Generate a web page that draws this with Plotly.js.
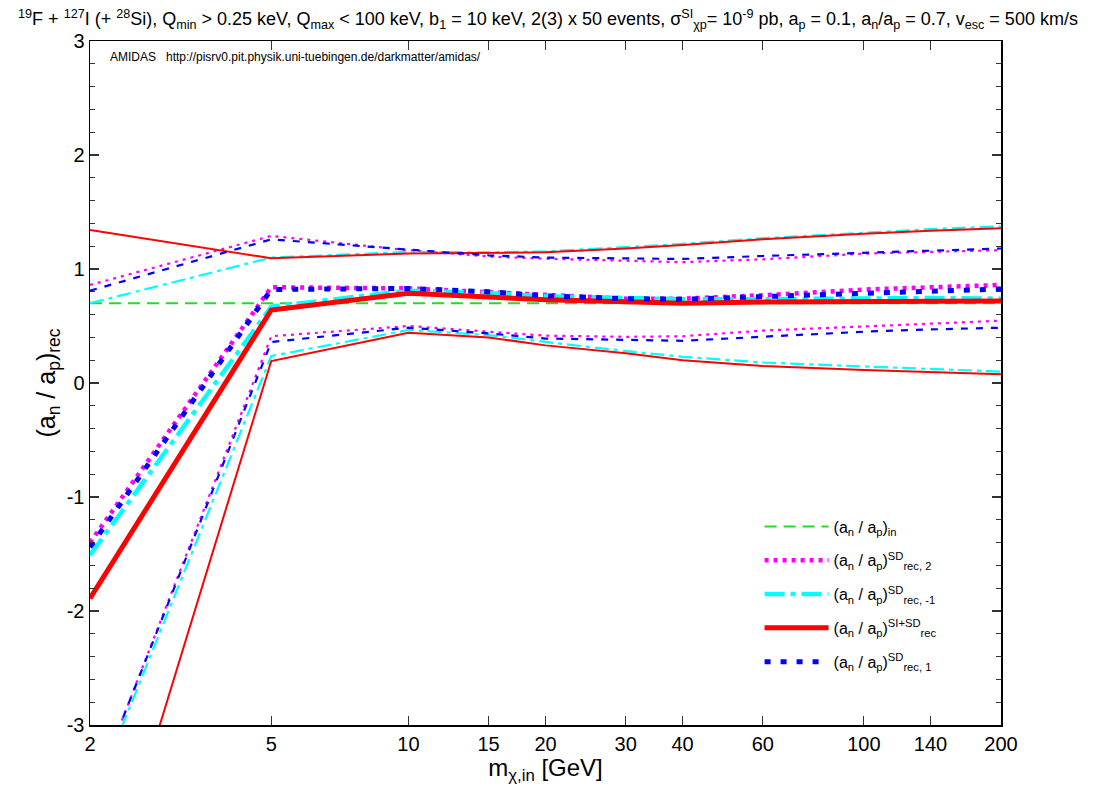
<!DOCTYPE html>
<html>
<head>
<meta charset="utf-8">
<script src="https://cdn.plot.ly/plotly-3.0.1.min.js"></script>
<style>html,body{margin:0;padding:0;background:#fff;}#chart{width:1096px;height:785px;}</style>
</head>
<body>
<div id="chart"></div>
<script>
// WIMP masses [GeV]
const masses = [2, 5, 10, 15, 20, 30, 40, 60, 100, 140, 200];
const tickLabels = ["2", "5", "10", "15", "20", "30", "40", "60", "100", "140", "200"];
const yTickVals = [-3, -2, -1, 0, 1, 2, 3];
const yTickLabels = ["-3", "-2", "-1", "0", "1", "2", "3"];

// input value
const anapIn = [0.7, 0.7, 0.7, 0.7, 0.7, 0.7, 0.7, 0.7, 0.7, 0.7, 0.7];

// SD, n = 2
const sd2Mid = [-1.40, 0.84, 0.83, 0.80, 0.77, 0.74, 0.74, 0.77, 0.82, 0.84, 0.86];
const sd2Up  = [0.86, 1.29, 1.165, 1.11, 1.09, 1.07, 1.06, 1.085, 1.135, 1.15, 1.165];
const sd2Lo  = [-3.68, 0.41, 0.50, 0.45, 0.415, 0.405, 0.41, 0.46, 0.50, 0.52, 0.547];

// SD, n = -1
const sdm1Mid = [-1.51, 0.67, 0.81, 0.79, 0.76, 0.74, 0.735, 0.735, 0.745, 0.745, 0.74];
const sdm1Up  = [0.70, 1.10, 1.15, 1.146, 1.155, 1.19, 1.22, 1.27, 1.32, 1.35, 1.375];
const sdm1Lo  = [-3.71, 0.237, 0.465, 0.42, 0.36, 0.28, 0.23, 0.18, 0.145, 0.12, 0.10];

// SI+SD
const sisdMid = [-1.89, 0.64, 0.787, 0.757, 0.73, 0.713, 0.70, 0.71, 0.715, 0.715, 0.72];
const sisdUp  = [1.342, 1.094, 1.135, 1.138, 1.146, 1.18, 1.21, 1.26, 1.31, 1.336, 1.357];
const sisdLo  = [-5.0, 0.193, 0.44, 0.40, 0.33, 0.26, 0.20, 0.15, 0.114, 0.095, 0.076];

// SD, n = 1
const sd1Mid = [-1.44, 0.82, 0.83, 0.80, 0.765, 0.74, 0.735, 0.757, 0.795, 0.81, 0.825];
const sd1Up  = [0.81, 1.26, 1.17, 1.12, 1.10, 1.09, 1.088, 1.114, 1.143, 1.16, 1.18];
const sd1Lo  = [-3.67, 0.36, 0.485, 0.435, 0.39, 0.377, 0.37, 0.406, 0.45, 0.47, 0.485];

const legendNames = [
  "(a<sub>n</sub> / a<sub>p</sub>)<sub>in</sub>",
  "(a<sub>n</sub> / a<sub>p</sub>)<sup>SD</sup><sub>rec, 2</sub>",
  "(a<sub>n</sub> / a<sub>p</sub>)<sup>SD</sup><sub>rec, -1</sub>",
  "(a<sub>n</sub> / a<sub>p</sub>)<sup>SI+SD</sup><sub>rec</sub>",
  "(a<sub>n</sub> / a<sub>p</sub>)<sup>SD</sup><sub>rec, 1</sub>"
];

function tr(y, color, width, dash, name, show, group) {
  return {
    x: masses, y: y, type: "scatter", mode: "lines",
    line: {color: color, width: width, dash: dash},
    name: name || "", showlegend: !!show, hoverinfo: "skip",
    legendgroup: group || undefined
  };
}

const data = [
  tr(anapIn, "#22dd22", 2, "12px,7px", legendNames[0], true, "g0"),
  tr(sd2Mid, "#ff00ff", 4.5, "4px,5px", legendNames[1], true, "g1"),
  tr(sd2Up, "#ff00ff", 2.2, "3px,5px"),
  tr(sd2Lo, "#ff00ff", 2.2, "3px,5px"),
  tr(sdm1Mid, "#00ffff", 4.5, "20px,6px,5px,6px", legendNames[2], true, "g2"),
  tr(sdm1Up, "#00ffff", 2.2, "14px,5px,4px,5px"),
  tr(sdm1Lo, "#00ffff", 2.2, "14px,5px,4px,5px"),
  tr(sisdMid, "#ff0000", 5, "solid", legendNames[3], true, "g3"),
  tr(sisdUp, "#ff0000", 2, "solid"),
  tr(sisdLo, "#ff0000", 2, "solid"),
  tr(sd1Mid, "#0000ff", 5, "6px,10px", legendNames[4], true, "g4"),
  tr(sd1Up, "#0000ff", 2.2, "7px,8px"),
  tr(sd1Lo, "#0000ff", 2.2, "7px,8px")
];

const FONT = "Liberation Sans, Arial, sans-serif";

const layout = {
  width: 1096, height: 785,
  margin: {l: 90, r: 95, t: 41, b: 60},
  paper_bgcolor: "#fff", plot_bgcolor: "#fff",
  font: {family: FONT, color: "#000", size: 20},
  title: {
    text: "<sup>19</sup>F + <sup>127</sup>I (+ <sup>28</sup>Si), Q<sub>min</sub> &gt; 0.25 keV, Q<sub>max</sub> &lt; 100 keV, b<sub>1</sub> = 10 keV, 2(3) x 50 events, σ<sup>SI</sup><sub>χp</sub>= 10<sup>-9</sup> pb, a<sub>p</sub> = 0.1, a<sub>n</sub>/a<sub>p</sub> = 0.7, v<sub>esc</sub> = 500 km/s",
    font: {family: FONT, size: 18, color: "#000"},
    x: 0.5, xref: "container", xanchor: "center",
    y: 0.984, yref: "container", yanchor: "top"
  },
  xaxis: {
    type: "log",
    range: [Math.log10(2), Math.log10(200)],
    tickvals: masses, ticktext: tickLabels,
    ticks: "inside", ticklen: 9, tickwidth: 1.2, tickcolor: "#333",
    showline: true, linecolor: "#000", linewidth: 1.5, mirror: "ticks",
    showgrid: false, zeroline: false,
    tickfont: {family: FONT, size: 20},
    title: {text: "m<sub>χ,in</sub> [GeV]", font: {family: FONT, size: 24}, standoff: 0}
  },
  yaxis: {
    range: [-3, 3],
    tickvals: yTickVals, ticktext: yTickLabels,
    ticks: "inside", ticklen: 9, tickwidth: 1.2, tickcolor: "#333",
    minor: {dtick: 0.2, tick0: 0, ticks: "inside", ticklen: 5, tickwidth: 1.2, tickcolor: "#333", showgrid: false},
    showline: true, linecolor: "#000", linewidth: 1.5, mirror: "ticks",
    showgrid: false, zeroline: false,
    tickfont: {family: FONT, size: 20},
    title: {text: "(a<sub>n</sub> / a<sub>p</sub>)<sub>rec</sub>", font: {family: FONT, size: 25}, standoff: 4}
  },
  legend: {
    x: 0.735, y: 0.315, xanchor: "left", yanchor: "top",
    bgcolor: "rgba(0,0,0,0)", borderwidth: 0,
    font: {family: FONT, size: 16, color: "#000"},
    tracegroupgap: 10, itemwidth: 64
  },
  annotations: [{
    text: "AMIDAS   http://pisrv0.pit.physik.uni-tuebingen.de/darkmatter/amidas/",
    xref: "paper", yref: "paper", x: 0.02, y: 0.99,
    xanchor: "left", yanchor: "top", showarrow: false,
    font: {family: FONT, size: 12, color: "#000"}
  }],
  showlegend: true
};

Plotly.newPlot("chart", data, layout, {displayModeBar: false, staticPlot: true});
</script>
</body>
</html>
